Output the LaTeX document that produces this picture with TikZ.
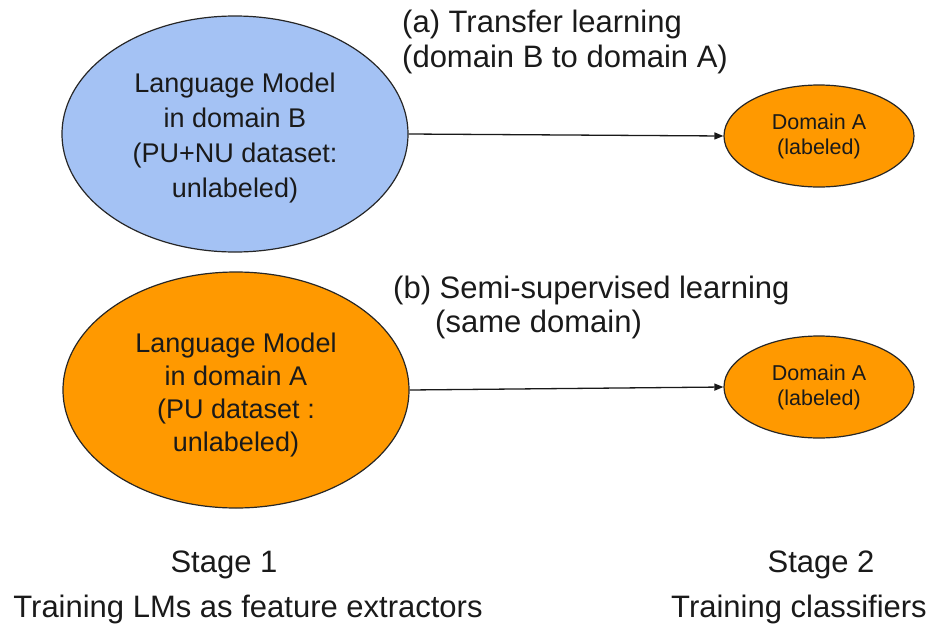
\documentclass[tikz,border=0pt]{standalone}
\usepackage{fontspec}
\setmainfont{Liberation Sans}
\usetikzlibrary{shapes.geometric,arrows.meta}
\definecolor{lmblue}{HTML}{A4C2F4}
\definecolor{lmorange}{HTML}{FF9900}
\definecolor{txt}{HTML}{1A1A1A}
\tikzset{
  bigell/.style={ellipse, draw=black!85, line width=1.2pt, inner sep=0pt,
    minimum width=346pt, minimum height=236pt},
  elltext/.style={inner sep=0pt, align=center, text=txt},
  smallell/.style={ellipse, draw=black!85, line width=1.2pt, inner sep=0pt,
    fill=lmorange, minimum width=190pt, minimum height=102pt, align=center, text=txt,
    font=\fontsize{21.5}{25}\selectfont},
  lbl/.style={inner sep=0pt, text=txt, font=\fontsize{31}{35}\selectfont},
  conn/.style={draw=black!90, line width=1.3pt, -{Triangle[length=9pt,width=7pt]}}
}
\begin{document}
\begin{tikzpicture}[x=1pt,y=-1pt]
\useasboundingbox (0,0) rectangle (930,635);
\node[bigell, fill=lmblue] (lmB) at (235,134) {};
\node[elltext, font=\fontsize{27}{35}\selectfont] (lmBt) at (235,138)
  {Language Model\\in domain B\\(PU+NU dataset:\\unlabeled)};
\node[bigell, fill=lmorange] (lmA) at (236,390) {};
\node[elltext, font=\fontsize{27}{33}\selectfont] (lmAt) at (236,395)
  {Language Model\\in domain A\\(PU dataset :\\unlabeled)};
\node[smallell] (dA1) at (819,136) {Domain A\\(labeled)};
\node[smallell] (dA2) at (819,387) {Domain A\\(labeled)};
\draw[conn] (lmB.east) -- (dA1.west);
\draw[conn] (lmA.east) -- (dA2.west);
\node[lbl, anchor=base west] (la1) at (402,32) {(a) Transfer learning};
\node[lbl, anchor=base west] (la2) at (402,67) {(domain B to domain A)};
\node[lbl, anchor=base west] (lb1) at (393,298) {(b) Semi-supervised learning};
\node[lbl, anchor=base west] (lb2) at (435,332) {(same domain)};
\node[lbl, anchor=base] (s1) at (224,572) {Stage 1};
\node[lbl, anchor=base] (t1) at (248,617) {Training LMs as feature extractors};
\node[lbl, anchor=base] (s2) at (821,572) {Stage 2};
\node[lbl, anchor=base] (t2) at (799,617) {Training classifiers};
\end{tikzpicture}
\end{document}
